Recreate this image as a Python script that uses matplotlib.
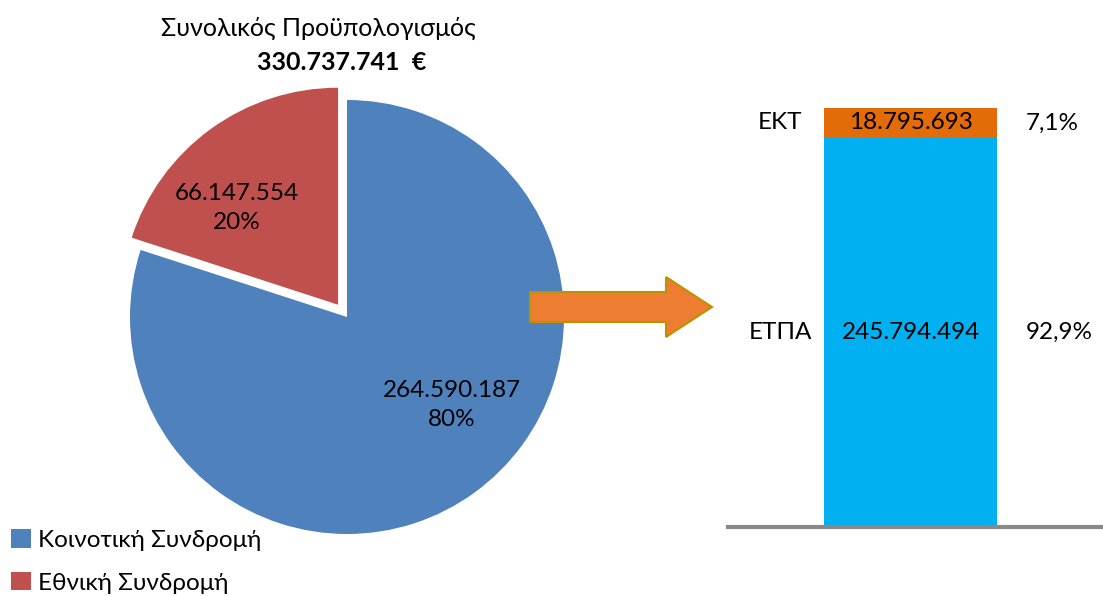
import matplotlib.pyplot as plt
from matplotlib.patches import FancyArrow

plt.rcParams['font.family'] = ['Lato', 'Noto Sans', 'DejaVu Sans']

# pie data
pie_labels = ['Κοινοτική Συνδρομή', 'Εθνική Συνδρομή']
pie_values = [264590187, 66147554]
pie_colors = ['#4F81BD', '#C0504D']

# stacked bar data (bottom to top)
bar_labels = ['ΕΤΠΑ', 'ΕΚΤ']
bar_values = [245794494, 18795693]
bar_pcts = ['92,9%', '7,1%']
bar_colors = ['#00B0F0', '#E36C09']

total = sum(pie_values)
bar_total = sum(bar_values)


def fmt(v):
    return f'{v:,}'.replace(',', '.')


W, H = 1103, 596
fig = plt.figure(figsize=(W / 100, H / 100), dpi=100)

font_size = 17.5

# Pie
ax = fig.add_axes([107 / W, 39 / H, 480 / W, 480 / H])
wedges, _ = ax.pie(pie_values, colors=pie_colors, startangle=90, counterclock=False,
                   explode=[0, 0.07], radius=1)
ax.set_xlim(-1.106, 1.106)
ax.set_ylim(-1.106, 1.106)
ax.set_aspect('equal')

ax.text(0.484, -0.406, f'{fmt(pie_values[0])}\n{round(pie_values[0] / total * 100)}%',
        ha='center', va='center', fontsize=font_size, linespacing=1.5)
ax.text(-0.507, 0.502, f'{fmt(pie_values[1])}\n{round(pie_values[1] / total * 100)}%',
        ha='center', va='center', fontsize=font_size, linespacing=1.5)

ax.legend(wedges, pie_labels, loc='lower left', bbox_to_anchor=(9 / W, 0),
          bbox_transform=fig.transFigure, frameon=False, fontsize=font_size,
          handlelength=0.8, handleheight=0.8, handletextpad=0.3, labelspacing=0.85,
          borderpad=0.0, borderaxespad=0.1)

# pixel-coordinate overlay for title and arrow (drawn above the pie)
ov = fig.add_axes([0, 0, 1, 1])
ov.set_xlim(0, W)
ov.set_ylim(H, 0)
ov.axis('off')

ov.text(318, 28, 'Συνολικός Προϋπολογισμός', ha='center', va='center', fontsize=18)
ov.text(342, 62, fmt(total) + '  €', ha='center', va='center', fontsize=18,
        fontweight='bold')

ov.add_patch(FancyArrow(530, 307, 182, 0, width=30, head_width=60, head_length=46,
                        length_includes_head=True, fc='#ED7D31', ec='#BF9000', lw=1.5))

# Stacked bar
bx = fig.add_axes([728 / W, 69 / H, 375 / W, 419 / H])
bottom = 0
for lab, val, pct, col in zip(bar_labels, bar_values, bar_pcts, bar_colors):
    bx.bar(0, val, bottom=bottom, width=0.9, color=col)
    mid = bottom + val / 2
    bx.text(0, mid, fmt(val), ha='center', va='center', fontsize=font_size)
    bx.text(-0.679, mid, lab, ha='center', va='center', fontsize=font_size)
    bx.text(0.600, mid, pct, ha='left', va='center', fontsize=font_size)
    bottom += val
bx.set_xlim(-0.95, 1.0)
bx.set_ylim(0, bar_total)
for s in ['top', 'left', 'right']:
    bx.spines[s].set_visible(False)
bx.spines['bottom'].set_color('#898989')
bx.spines['bottom'].set_linewidth(3)
bx.set_xticks([])
bx.set_yticks([])
bx.patch.set_visible(False)

plt.savefig('out.png', dpi=100)
